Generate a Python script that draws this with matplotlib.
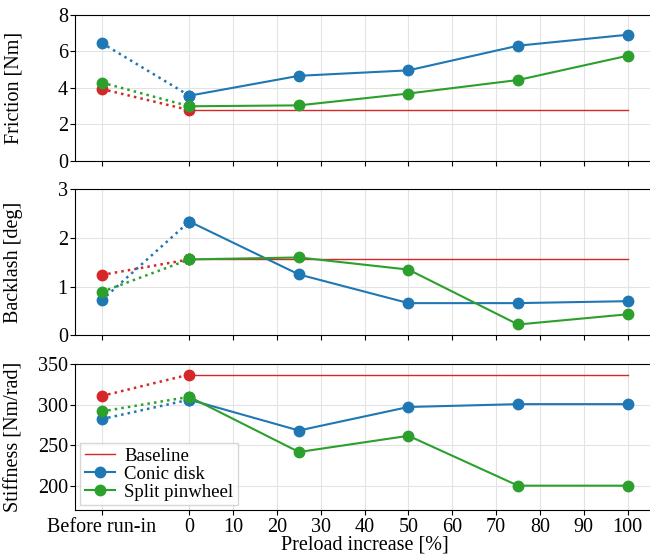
import matplotlib
matplotlib.use('Agg')
import matplotlib.pyplot as plt
import numpy as np

# =============================================================================
# Data
# =============================================================================

before_x = -20
preload = [0, 25, 50, 75, 100]
xtick_pos = [-20, 0, 10, 20, 30, 40, 50, 60, 70, 80, 90, 100]
xtick_labels = ['Before run-in', '0', '10', '20', '30', '40', '50', '60', '70', '80', '90', '100']

# friction [Nm]: before run-in, then preload values
friction_baseline = [3.93, 2.77]
friction_conic = [6.45, 3.56, 4.65, 4.95, 6.30, 6.90]
friction_split = [4.28, 2.98, 3.03, 3.68, 4.42, 5.75]

# backlash [deg]
backlash_baseline = [1.24, 1.56]
backlash_conic = [0.72, 2.34, 1.25, 0.66, 0.66, 0.70]
backlash_split = [0.89, 1.56, 1.60, 1.35, 0.22, 0.43]

# stiffness [Nm/rad]
stiffness_baseline = [310.5, 337.0]
stiffness_conic = [282.0, 306.0, 268.0, 297.0, 300.5, 300.5]
stiffness_split = [291.5, 309.5, 241.5, 261.5, 200.0, 200.0]

panels = [
    ('Friction [Nm]', friction_baseline, friction_conic, friction_split, (0, 8), [0, 2, 4, 6, 8]),
    ('Backlash [deg]', backlash_baseline, backlash_conic, backlash_split, (0, 3), [0, 1, 2, 3]),
    ('Stiffness [Nm/rad]', stiffness_baseline, stiffness_conic, stiffness_split, (170, 350), [200, 250, 300, 350]),
]

red = '#d62728'
blue = '#1f77b4'
green = '#2ca02c'

plt.rcParams['font.family'] = ['Liberation Serif', 'DejaVu Serif']
plt.rcParams['font.size'] = 14.5

fig = plt.figure(figsize=(6.5, 5.54), dpi=100)
axes_pos = [(0.116, 0.710, 0.89, 0.2635),
            (0.116, 0.395, 0.89, 0.263),
            (0.116, 0.0794, 0.89, 0.2636)]

for i, (label, base, conic, split, ylim, yticks) in enumerate(panels):
    ax = fig.add_axes(axes_pos[i])
    ax.grid(True, color='#e3e3e3', lw=0.8, zorder=0)
    ax.set_axisbelow(True)

    # baseline
    ax.plot([before_x, preload[0]], base, ':', color=red, lw=1.8, marker='o', ms=7.5, zorder=3)
    ax.plot([preload[0], preload[-1]], [base[1], base[1]], '-', color=red, lw=1.0, zorder=3, label='Baseline')

    for vals, c, name in [(conic, blue, 'Conic disk'), (split, green, 'Split pinwheel')]:
        ax.plot([before_x, preload[0]], vals[:2], ':', color=c, lw=1.8, marker='o', ms=7.5, zorder=3)
        ax.plot(preload, vals[1:], '-', color=c, lw=1.5, marker='o', ms=7.5, zorder=3, label=name)

    ax.set_xlim(-26, 106)
    ax.set_ylim(*ylim)
    ax.set_yticks(yticks)
    ax.set_xticks(xtick_pos)
    ax.set_ylabel(label)
    ax.tick_params(pad=2)
    if i < 2:
        ax.set_xticklabels([])
    else:
        ax.set_xticklabels(xtick_labels)
        ax.set_xlabel('Preload increase [%]', labelpad=-1)
        ax.legend(loc='lower left', fontsize=13.5, handlelength=1.6, borderpad=0.25,
                  labelspacing=0.05, handletextpad=0.5, borderaxespad=0.25,
                  fancybox=False, edgecolor='#cccccc')
    ax.yaxis.set_label_coords(-0.09, 0.5)

plt.savefig('out.png', dpi=100)
